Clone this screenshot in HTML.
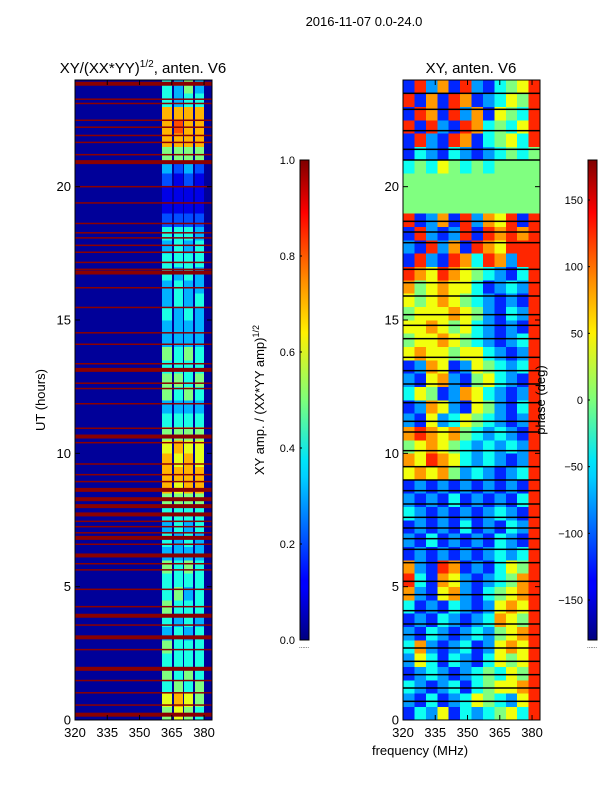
<!DOCTYPE html>
<html><head><meta charset="utf-8"><style>
body{margin:0;background:#fff;font-family:"Liberation Sans",sans-serif;}
svg{display:block}
text{font-family:"Liberation Sans",sans-serif;fill:#000}
</style></head><body>
<svg id="fig" width="600" height="800" xmlns="http://www.w3.org/2000/svg">
<defs>
<linearGradient id="jet" x1="0" y1="1" x2="0" y2="0">
<stop offset="0" stop-color="#00007f"/><stop offset="0.11" stop-color="#0000ff"/><stop offset="0.125" stop-color="#0000ff"/>
<stop offset="0.34" stop-color="#00d0ff"/><stop offset="0.375" stop-color="#00e5f8"/><stop offset="0.5" stop-color="#7dff7a"/>
<stop offset="0.64" stop-color="#fff000"/><stop offset="0.75" stop-color="#ff8c00"/><stop offset="0.89" stop-color="#ff0000"/><stop offset="1" stop-color="#7f0000"/>
</linearGradient>
</defs>
<text x="364" y="26" font-size="13" text-anchor="middle">2016-11-07 0.0-24.0</text>
<g id="left"></g>
<g id="right"></g>
<g id="cb"></g>
</svg>
<script>
const ampRows=["5654","6765","4545","5454","4444","5444","3434","4343","5444","4534","4444","5454","3333","4343","3434","4444","5555","7677","7777","7676","6766","5555","4444","3333","5454","5545","4444","5454","3333","3333","4343","3434","3433","4343","4444","3434","4443","2222","1111","1111","2121","3232","5555","7777","7877","7777","4344","4353"];
const colLo=[360.5,366,370.7,375.8];
const colHi=[365.1,370.2,374.9,380];
const redLines=[23.86,23.28,23.12,22.49,22.23,21.92,21.66,21.2,20.92,20.0,19.39,18.62,18.27,18.08,17.8,17.54,17.16,16.9,16.78,16.21,15.47,14.52,14.09,13.36,13.13,12.63,12.43,11.86,10.94,10.63,10.4,9.6,9.2,8.94,8.63,8.28,8.02,7.71,7.45,7.25,7.02,6.83,6.59,6.17,5.86,5.63,4.9,4.25,3.91,3.56,3.1,2.64,1.92,1.48,1.02,0.56,0.2];
const thickLines=[20.92,16.78,13.13,10.63,8.63,8.28,8.02,7.71,6.83,6.17,3.91,3.1,1.92,0.2,23.86];
const phaseRows=["bdcfbdcdefdh","cbdbcdfedcfh","dcbcdbdeffgh","bcdcbcdedfeh","cfdbdcbdfefh","dgcbcdbcfgfh","cbdcbcdcefgh","bcbdcbcdgfeh","dbcbdcbcfgfh","gcbfgcbdefgh","hdbgfcbcdegh","gcbhgbcbdfeh","bcbcbcbcdcdh","cbdbcbcbdcbh","bcbcbdbcbdch","dcbcbcbcdcbh","cbcbdbcbcbdh","bcbcbcbcbcbh","fgfgecdcbcdh","gfhgfdcdcbch","efgfedcdcdch","ghgfgedcdcbh","cbfcdfedcbch","bcgfcbfecbdh","dfebcgfdcbch","cbfgcbefdcbh","bcgfbcfedcdh","fgffeffdcbch","effgfedcbcdh","ffgfefdcbcbh","efffgfecbdch","fefgfedcbcbh","gefgffdbcdch","hgfhgfedcbdh","bhcbhgdhgchh","cbhcgbhgfhhh","bhcbchbhghgh","hbcgbhcgfhbh","eeeeeeeeeeee","eeeeeeeeeeee","eeeeeeeeeeee","dedfededeeee","bdcbdcbcdede","bhcbhgbdefdh","hbhcbhgdedfh","bhgbhcgbfedh","hbgbhgbcdfeh","bhcgbhcbdefh"];
const blackLines=[23.5,22.9,22.1,21.4,21.0,18.7,18.3,17.9,16.9,16.4,15.9,15.2,14.8,14.3,13.6,13.1,12.6,11.9,11.2,10.8,10.1,9.5,9.0,8.6,8.1,7.6,7.2,6.8,6.4,5.9,5.2,4.7,4.1,3.6,3.2,2.7,2.2,1.7,1.2,0.7];
const yTicks=[0,5,10,15,20];
const xTicks=[320,335,350,365,380];
const ampTicks=[0.0,0.2,0.4,0.6,0.8,1.0];
const phTicks=[-150,-100,-50,0,50,100,150];

const NS="http://www.w3.org/2000/svg";
function jet(v){v=Math.max(0,Math.min(1,v));
 const r=Math.min(4*v-1.5,-4*v+4.5),g=Math.min(4*v-0.5,-4*v+3.5),b=Math.min(4*v+0.5,-4*v+2.5);
 const c=x=>Math.round(255*Math.max(0,Math.min(1,x)));return `rgb(${c(r)},${c(g)},${c(b)})`;}
function mk(tag,attrs,parent){const e=document.createElementNS(NS,tag);for(const k in attrs)e.setAttribute(k,attrs[k]);parent.appendChild(e);return e;}
const fMin=320,fMax=383.7,tMax=24;
function panel(x0){return {x:f=>x0+(f-fMin)/(fMax-fMin)*137,y:h=>720-h/tMax*640,x0:x0};}

function axes(g,P,title){
 mk('rect',{x:P.x0,y:80,width:137,height:640,fill:'none',stroke:'#000','stroke-width':1},g);
 yTicks.forEach(t=>{const y=P.y(t);
  mk('line',{x1:P.x0,x2:P.x0+5,y1:y,y2:y,stroke:'#000'},g);
  mk('line',{x1:P.x0+137,x2:P.x0+132,y1:y,y2:y,stroke:'#000'},g);
  const tx=mk('text',{x:P.x0-4,y:y+4.5,'font-size':13,'text-anchor':'end'},g);tx.textContent=t;
  
  });
 xTicks.forEach(t=>{const x=P.x(t);
  mk('line',{x1:x,x2:x,y1:720,y2:715,stroke:'#000'},g);
  mk('line',{x1:x,x2:x,y1:80,y2:85,stroke:'#000'},g);
  const tx=mk('text',{x:x,y:737,'font-size':13,'text-anchor':'middle'},g);tx.textContent=t;
  
  });
 const tt=mk('text',{x:P.x0+68,y:73,'font-size':15,'text-anchor':'middle'},g);
 
 
 tt.innerHTML=title;
}

// left amplitude panel
const L=panel(75),gl=document.getElementById('left');
mk('rect',{x:75,y:80,width:137,height:640,fill:jet(0.025)},gl);
ampRows.forEach((row,i)=>{for(let c=0;c<4;c++){const v=+row[c]/10;
 const r=mk('rect',{x:L.x(colLo[c]),y:L.y((i+1)*0.5),width:L.x(colHi[c])-L.x(colLo[c]),height:640/48+0.3,fill:jet(v),'shape-rendering':'crispEdges'},gl);
 
 }});
redLines.forEach(h=>{const th=thickLines.includes(h)?4:1.5;
 const r=mk('rect',{x:75,y:L.y(h)-th/2,width:137,height:th,fill:'#8b0000'},gl);
 
 });
axes(gl,L,'XY/(XX*YY)<tspan dy="-6" font-size="10">1/2</tspan><tspan dy="6">, anten. V6</tspan>');
const yl=mk('text',{x:45,y:400,'font-size':13,'text-anchor':'middle',transform:'rotate(-90 45 400)'},gl);
yl.textContent='UT (hours)';



// right phase panel
const R=panel(403),gr=document.getElementById('right');
const cw=(fMax-fMin)/12;
phaseRows.forEach((row,i)=>{for(let c=0;c<12;c++){const lvl=row.charCodeAt(c)-97;const v=lvl/8*0.9+0.05;
 const r=mk('rect',{x:R.x(fMin+c*cw),y:R.y((i+1)*0.5),width:137/12+0.3,height:640/48+0.3,fill:jet(v),'shape-rendering':'crispEdges'},gr);
 
 }});
blackLines.forEach(h=>{const r=mk('rect',{x:403,y:R.y(h)-0.75,width:137,height:1.5,fill:'#000'},gr);
 
 });
axes(gr,R,'XY, anten. V6');
const xl=mk('text',{x:420,y:755,'font-size':13,'text-anchor':'middle'},gr);
xl.textContent='frequency (MHz)';



// colorbars
const gc=document.getElementById('cb');
function cbar(x,ticks,lo,hi,fmt,label,lx){
 const b=mk('rect',{x:x,y:160,width:9,height:480,fill:'url(#jet)',stroke:'#000'},gc);
 
 
 ticks.forEach(t=>{const y=640-(t-lo)/(hi-lo)*480;
  mk('line',{x1:x,x2:x+2,y1:y,y2:y,stroke:'#000'},gc);
  const tx=mk('text',{x:x-5,y:y+4,'font-size':11,'text-anchor':'end'},gc);tx.textContent=fmt(t);
  
  });
 const lt=mk('text',{x:lx,y:400,'font-size':13,'text-anchor':'middle',transform:`rotate(-90 ${lx} 400)`},gc);
 lt.innerHTML=label;
 
 
 const d=mk('text',{x:x+4,y:648,'font-size':6,'text-anchor':'middle',fill:'#888'},gc);d.textContent='......';
}
cbar(300,ampTicks,0,1,t=>t.toFixed(1),'XY amp. / (XX*YY amp)<tspan dy="-5" font-size="9">1/2</tspan>',264);
cbar(588,phTicks,-180,180,t=>t<0?'\u2212'+(-t):String(t),'phase (deg)',545);
</script>
</body></html>
